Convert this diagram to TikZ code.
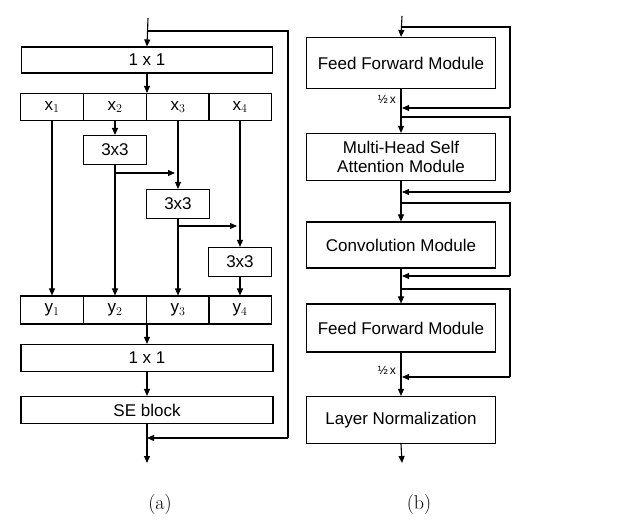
\documentclass[tikz,border=0pt]{standalone}
\usepackage{fontspec}
\setmainfont{Liberation Sans}
\newfontfamily\lmr{Latin Modern Roman}
\usetikzlibrary{arrows.meta}
\begin{document}
\begin{tikzpicture}[x=1pt,y=-1pt,line width=1.1pt,
  box/.style={draw,rectangle,inner sep=0pt,font=\fontsize{17}{19}\selectfont,align=center},
  arr/.style={-{Triangle[length=7pt,width=6pt]}},
  lab/.style={font=\fontsize{12}{13}\selectfont,inner sep=1pt}]
\useasboundingbox (0,0) rectangle (622,532);
% ---------- (a) ----------
\coordinate (ain) at (148,18);
\coordinate (askip) at (148,31);
\coordinate (askipR) at (288,31);
\node[box,minimum width=251pt,minimum height=26pt] (c1) at (147,60) {1 x 1};
\foreach \i/\x in {1/52,2/115,3/178,4/240}{
  \node[box,minimum width=63pt,minimum height=27pt] (x\i) at (\x,107) {x$_{\i}$};
  \node[box,minimum width=63pt,minimum height=28pt] (y\i) at (\x,310) {y$_{\i}$};
}
\node[box,minimum width=63pt,minimum height=29pt] (k1) at (115,150) {3x3};
\node[box,minimum width=63pt,minimum height=29pt] (k2) at (178,204) {3x3};
\node[box,minimum width=63pt,minimum height=29pt] (k3) at (240,262) {3x3};
\node[box,minimum width=252pt,minimum height=27pt] (c2) at (147,358) {1 x 1};
\node[box,minimum width=252pt,minimum height=27pt] (se) at (147,410) {SE block};
\coordinate (ajoin) at (147,438);
\coordinate (aout) at (147,463);
\draw[arr] (ain) -- (c1.north);
\draw (askip) -- (askipR) -- (288,438) coordinate (askipB);
\draw[arr] (askipB) -- (ajoin);
\draw[arr] (c1.south) -- (147,93);
\draw[arr] (x1.south) -- (y1.north);
\draw[arr] (x2.south) -- (k1.north);
\draw[arr] (k1.south) -- (y2.north);
\draw[arr] (115,173) -- (175,173);
\draw[arr] (x3.south) -- (k2.north);
\draw[arr] (k2.south) -- (y3.north);
\draw[arr] (178,226) -- (237,226);
\draw[arr] (x4.south) -- (k3.north);
\draw[arr] (k3.south) -- (y4.north);
\draw[arr] (147,324) -- (c2.north);
\draw[arr] (c2.south) -- (se.north);
\draw[arr] (se.south) -- (aout);
\node[font=\lmr\fontsize{20}{22}\selectfont] (la) at (160,505) {(a)};
% ---------- (b) ----------
\node[box,minimum width=189pt,minimum height=51pt] (f1) at (401,63) {Feed Forward Module};
\node[box,minimum width=189pt,minimum height=47pt] (mh) at (401,157) {Multi-Head Self\\Attention Module};
\node[box,minimum width=189pt,minimum height=46pt] (cv) at (401,245) {Convolution Module};
\node[box,minimum width=189pt,minimum height=48pt] (f2) at (401,328) {Feed Forward Module};
\node[box,minimum width=189pt,minimum height=47pt] (ln) at (401,420) {Layer Normalization};
\coordinate (bin) at (402,16);
\draw[arr] (bin) -- (f1.north);
\draw (402,27) -- (510,27) -- (510,108);
\draw[arr] (510,108) -- (402,108);
\draw[arr] (f1.south) -- (mh.north);
\draw (402,117) -- (510,117) -- (510,192);
\draw[arr] (510,192) -- (402,192);
\draw[arr] (mh.south) -- (cv.north);
\draw (402,203) -- (510,203) -- (510,276);
\draw[arr] (510,276) -- (402,276);
\draw[arr] (cv.south) -- (f2.north);
\draw (402,289) -- (510,289) -- (510,377);
\draw[arr] (510,377) -- (402,377);
\draw[arr] (f2.south) -- (ln.north);
\draw[arr] (ln.south) -- (402,463);
\node[lab] (h1) at (387,99) {\textonehalf\,x};
\node[lab] (h2) at (387,370) {\textonehalf\,x};
\node[font=\lmr\fontsize{20}{22}\selectfont] (lb) at (419,505) {(b)};
\end{tikzpicture}
\end{document}
